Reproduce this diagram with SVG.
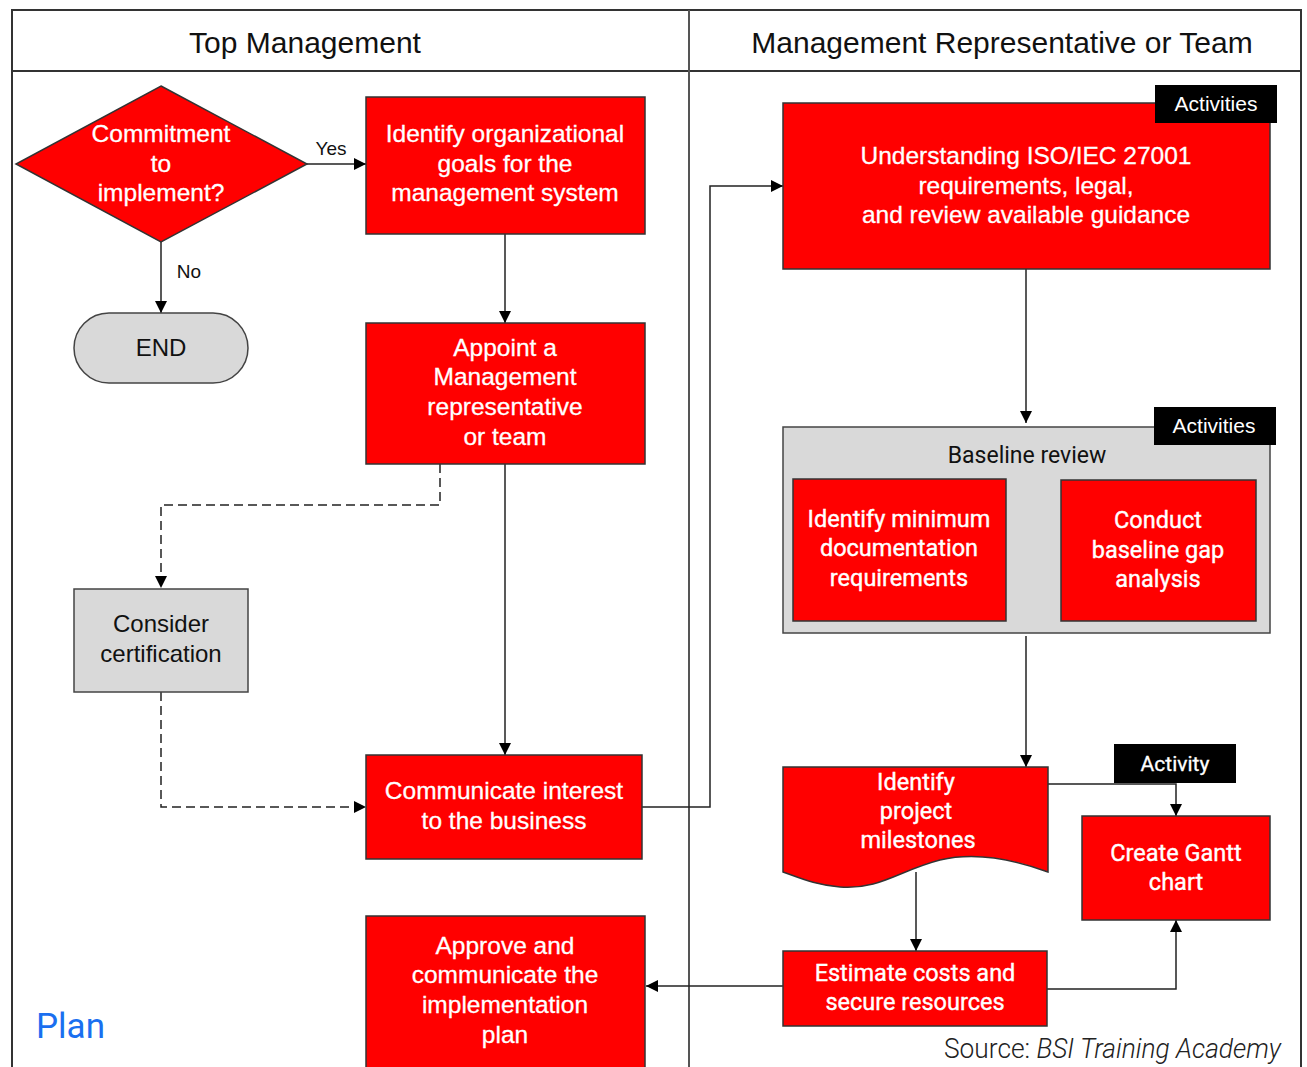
<svg xmlns="http://www.w3.org/2000/svg" width="1307" height="1067" viewBox="0 0 1307 1067">
  <style>
    .frame { fill: none; stroke: #333; stroke-width: 2; }
    .box { fill: #ff0000; stroke: #333; stroke-width: 1.5; }
    .grey { fill: #d9d9d9; stroke: #444; stroke-width: 1.5; }
    .tag { fill: #000; }
    .wt { fill: #fff; font-family: "Liberation Sans", Arial, sans-serif; font-size: 24.5px; text-anchor: middle; stroke: #fff; stroke-width: 0.3; }
    .wr { fill: #fff; font-family: Roboto, "Liberation Sans", sans-serif; font-size: 23.5px; text-anchor: middle; stroke: #fff; stroke-width: 0.4; }
    .bt { fill: #111; font-family: "Liberation Sans", Arial, sans-serif; font-size: 24px; text-anchor: middle; }
    .br { fill: #111; font-family: Roboto, "Liberation Sans", sans-serif; font-size: 23px; text-anchor: middle; }
    .hdr { fill: #111; font-family: "Liberation Sans", Arial, sans-serif; font-size: 30px; text-anchor: middle; }
    .lbl { fill: #111; font-family: "Liberation Sans", Arial, sans-serif; font-size: 19px; text-anchor: middle; }
    .tagt { fill: #fff; font-family: "Liberation Sans", Arial, sans-serif; font-size: 21px; text-anchor: middle; }
    .tagr { fill: #fff; font-family: Roboto, "Liberation Sans", sans-serif; font-size: 21px; text-anchor: middle; stroke: #fff; stroke-width: 0.3; }
    .line { fill: none; stroke: #222; stroke-width: 1.5; }
    .dash { fill: none; stroke: #222; stroke-width: 1.5; stroke-dasharray: 9 5; }
  </style>
  <defs>
    <marker id="arrowL" viewBox="0 0 12 12" refX="12" refY="6" markerWidth="12" markerHeight="12" markerUnits="userSpaceOnUse" orient="auto">
      <path d="M0,0 L12,6 L0,12 z" fill="#000"/>
    </marker>
  </defs>

  <rect width="1307" height="1067" fill="#fff"/>

  <!-- swimlane frame -->
  <g id="lanes">
    <path class="frame" d="M12,1067 V10 H1301 V1067"/>
    <line class="frame" x1="12" y1="71" x2="1301" y2="71"/>
    <line class="frame" x1="689" y1="10" x2="689" y2="1067" style="stroke:#555"/>
    <text class="hdr" x="305" y="53">Top Management</text>
    <text class="hdr" x="1002" y="53">Management Representative or Team</text>
  </g>

  <!-- connectors -->
  <g id="connectors">
    <line class="line" x1="307" y1="164" x2="366" y2="164" marker-end="url(#arrowL)"/>
    <text class="lbl" x="331" y="155">Yes</text>
    <line class="line" x1="161" y1="242" x2="161" y2="313" marker-end="url(#arrowL)"/>
    <text class="lbl" x="189" y="278">No</text>
    <line class="line" x1="505" y1="234" x2="505" y2="323" marker-end="url(#arrowL)"/>
    <path class="dash" d="M440,464 V505 H161 V588" marker-end="url(#arrowL)"/>
    <path class="dash" d="M161,692 V807 H366" marker-end="url(#arrowL)"/>
    <line class="line" x1="505" y1="464" x2="505" y2="755" marker-end="url(#arrowL)"/>
    <path class="line" d="M642,807 H710 V186 H783" marker-end="url(#arrowL)"/>
    <line class="line" x1="1026" y1="269" x2="1026" y2="423" marker-end="url(#arrowL)"/>
    <line class="line" x1="1026" y1="636" x2="1026" y2="767" marker-end="url(#arrowL)"/>
    <path class="line" d="M1048,784 H1176 V816" marker-end="url(#arrowL)"/>
    <line class="line" x1="916" y1="872" x2="916" y2="951" marker-end="url(#arrowL)"/>
    <path class="line" d="M1047,989 H1176 V920" marker-end="url(#arrowL)"/>
    <line class="line" x1="783" y1="986" x2="646" y2="986" marker-end="url(#arrowL)"/>
  </g>

  <g id="commitment">
    <polygon class="box" points="161,86 307,164 161,242 16,164"/>
    <text class="wt" x="161" y="142">Commitment</text>
    <text class="wt" x="161" y="172">to</text>
    <text class="wt" x="161" y="201">implement?</text>
  </g>

  <g id="identify-goals">
    <rect class="box" x="366" y="97" width="279" height="137"/>
    <text class="wt" x="505" y="142">Identify organizational</text>
    <text class="wt" x="505" y="172">goals for the</text>
    <text class="wt" x="505" y="201">management system</text>
  </g>

  <g id="end">
    <rect class="grey" x="74" y="313" width="174" height="70" rx="35" ry="35"/>
    <text class="bt" x="161" y="356">END</text>
  </g>

  <g id="appoint">
    <rect class="box" x="366" y="323" width="279" height="141"/>
    <text class="wt" x="505" y="356">Appoint a</text>
    <text class="wt" x="505" y="385">Management</text>
    <text class="wt" x="505" y="415">representative</text>
    <text class="wt" x="505" y="445">or team</text>
  </g>

  <g id="consider">
    <rect class="grey" x="74" y="589" width="174" height="103"/>
    <text class="bt" x="161" y="632">Consider</text>
    <text class="bt" x="161" y="662">certification</text>
  </g>

  <g id="communicate">
    <rect class="box" x="366" y="755" width="276" height="104"/>
    <text class="wt" x="504" y="799">Communicate interest</text>
    <text class="wt" x="504" y="829">to the business</text>
  </g>

  <g id="approve">
    <rect class="box" x="366" y="916" width="279" height="152"/>
    <text class="wt" x="505" y="954">Approve and</text>
    <text class="wt" x="505" y="983">communicate the</text>
    <text class="wt" x="505" y="1013">implementation</text>
    <text class="wt" x="505" y="1043">plan</text>
  </g>

  <g id="understanding">
    <rect class="box" x="783" y="103" width="487" height="166"/>
    <rect class="tag" x="1155" y="85" width="122" height="38"/>
    <text class="tagt" x="1216" y="111">Activities</text>
    <text class="wt" x="1026" y="164">Understanding ISO/IEC 27001</text>
    <text class="wt" x="1026" y="194">requirements, legal,</text>
    <text class="wt" x="1026" y="223">and review available guidance</text>
  </g>

  <g id="baseline-review">
    <rect class="grey" x="783" y="427" width="487" height="206"/>
    <rect class="tag" x="1154" y="407" width="122" height="38"/>
    <text class="tagt" x="1214" y="433">Activities</text>
    <text class="br" x="1027" y="463">Baseline review</text>
  </g>

  <g id="min-docs">
    <rect class="box" x="793" y="479" width="213" height="142"/>
    <text class="wr" x="899" y="527">Identify minimum</text>
    <text class="wr" x="899" y="556">documentation</text>
    <text class="wr" x="899" y="586">requirements</text>
  </g>

  <g id="gap-analysis">
    <rect class="box" x="1061" y="480" width="195" height="141"/>
    <text class="wr" x="1158" y="528">Conduct</text>
    <text class="wr" x="1158" y="558">baseline gap</text>
    <text class="wr" x="1158" y="587">analysis</text>
  </g>

  <g id="milestones">
    <path class="box" d="M783,767 H1048 V872 C1010,858 975,852 940,860 C900,870 880,890 840,887 C815,885 800,878 783,872 Z"/>
    <text class="wr" x="916" y="790">Identify</text>
    <text class="wr" x="916" y="819">project</text>
    <text class="wr" x="918" y="848">milestones</text>
  </g>

  <g id="activity-tag">
    <rect class="tag" x="1114" y="744" width="122" height="39"/>
    <text class="tagr" x="1175" y="771">Activity</text>
  </g>

  <g id="gantt">
    <rect class="box" x="1082" y="816" width="188" height="104"/>
    <text class="wr" x="1176" y="861">Create Gantt</text>
    <text class="wr" x="1176" y="890">chart</text>
  </g>

  <g id="estimate">
    <rect class="box" x="783" y="951" width="264" height="75"/>
    <text class="wr" x="915" y="981">Estimate costs and</text>
    <text class="wr" x="915" y="1010">secure resources</text>
  </g>

  <g id="captions">
    <text x="36" y="1038" fill="#1a6ff0" font-family="Roboto, 'Open Sans', sans-serif" font-size="35">Plan</text>
    <text x="1281" y="1058" text-anchor="end" fill="#222" font-family="Roboto, 'Liberation Sans', sans-serif" font-weight="300" font-size="27" textLength="337" lengthAdjust="spacingAndGlyphs">Source: <tspan font-style="italic">BSI Training Academy</tspan></text>
  </g>
</svg>
